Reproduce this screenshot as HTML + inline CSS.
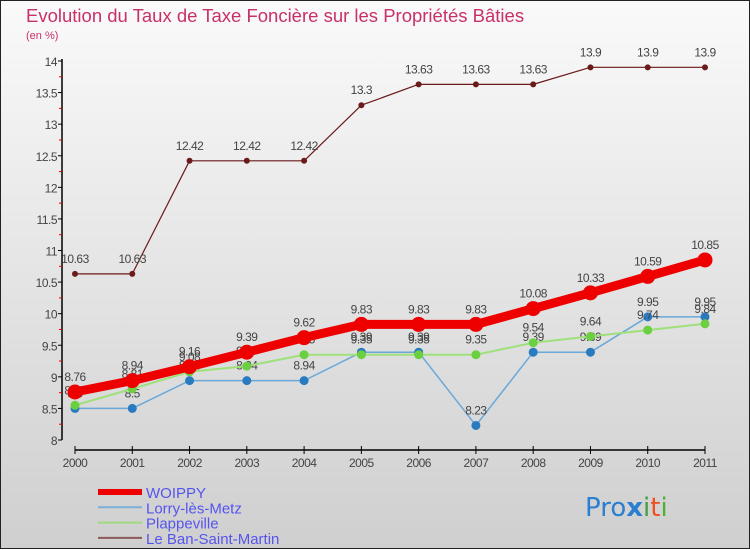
<!DOCTYPE html>
<html><head><meta charset="utf-8"><style>
body{margin:0;}
svg{display:block;font-family:"Liberation Sans",sans-serif;}
</style></head><body>
<svg id="c" width="750" height="550" viewBox="0 0 750 550">
<defs><linearGradient id="bg" x1="0" y1="0" x2="0" y2="1"><stop offset="0" stop-color="#fafafa"/><stop offset="1" stop-color="#cfcfcf"/></linearGradient></defs>
<rect x="0.5" y="0.5" width="749" height="548" fill="url(#bg)" stroke="#222"/>
<text x="26" y="22" font-size="18.5" fill="#c8306a">Evolution du Taux de Taxe Foncière sur les Propriétés Bâties</text>
<text x="26" y="39" font-size="11" fill="#c8306a">(en %)</text>
<g id="axes"></g>
<g id="series"></g>
<g id="legend"></g>
<text x="585" y="516" font-size="26" font-family="'DejaVu Sans',sans-serif"><tspan fill="#2a7fd0">Pro</tspan><tspan fill="#2a7fd0" font-weight="bold">x</tspan><tspan fill="#40a040">i</tspan><tspan fill="#f05020">t</tspan><tspan fill="#50b030">i</tspan></text>
</svg>
<script>
const years=[2000,2001,2002,2003,2004,2005,2006,2007,2008,2009,2010,2011];
const woippy=[8.76,8.94,9.16,9.39,9.62,9.83,9.83,9.83,10.08,10.33,10.59,10.85];
const lorry=[8.5,8.5,8.94,8.94,8.94,9.39,9.39,8.23,9.39,9.39,9.95,9.95];
const plappeville=[8.55,8.81,9.08,9.17,9.35,9.35,9.35,9.35,9.54,9.64,9.74,9.84];
const banSaintMartin=[10.63,10.63,12.42,12.42,12.42,13.3,13.63,13.63,13.63,13.9,13.9,13.9];
const yTicks=[8,8.5,9,9.5,10,10.5,11,11.5,12,12.5,13,13.5,14];
const yTickLabels=["8","8.5","9","9.5","10","10.5","11","11.5","12","12.5","13","13.5","14"];
const seriesNames=["WOIPPY","Lorry-lès-Metz","Plappeville","Le Ban-Saint-Martin"];

const NS="http://www.w3.org/2000/svg";
const x=i=>75+(705-75)*i/(years.length-1);
const y=v=>440-(v-8)*(440-61)/6;
function mk(tag,attrs,parent,txt){const e=document.createElementNS(NS,tag);for(const k in attrs)e.setAttribute(k,attrs[k]);if(txt!==undefined)e.textContent=txt;parent.appendChild(e);return e;}
const ax=document.getElementById('axes');
let e=mk('line',{x1:62,y1:59,x2:62,y2:440,stroke:'#000','stroke-width':1.5},ax);


yTicks.forEach((t,i)=>{
 mk('line',{x1:58,y1:y(t),x2:62,y2:y(t),stroke:'#000'},ax);
 if(i<yTicks.length-1) mk('line',{x1:59,y1:y(t+0.25),x2:62,y2:y(t+0.25),stroke:'#e00'},ax);
 const l=mk('text',{x:57,y:y(t)+5,'font-size':12,fill:'#444','text-anchor':'end','letter-spacing':'-0.5'},ax,yTickLabels[i]);
 
 
});
e=mk('line',{x1:75,y1:450,x2:705,y2:450,stroke:'#000','stroke-width':1.5},ax);


years.forEach((yr,i)=>{
 mk('line',{x1:x(i),y1:446,x2:x(i),y2:454,stroke:'#000'},ax);
 const l=mk('text',{x:x(i),y:467,'font-size':12,fill:'#444','text-anchor':'middle','letter-spacing':'-0.5'},ax,yr);
 
 
});
const sg=document.getElementById('series');
const defs=[
 {d:banSaintMartin,c:'#6b1a1a',w:1.2,r:3,n:'ban-saint-martin'},
 {d:lorry,c:'#6aa8d8',w:1.5,r:4.5,mc:'#2a7ac0',n:'lorry-les-metz'},
 {d:plappeville,c:'#9ee07a',w:2,r:4.5,mc:'#6ad040',n:'plappeville'},
 {d:woippy,c:'#ee0000',w:9,r:7.5,n:'woippy'}
];
defs.forEach(s=>{
 const g=mk('g',{},sg);
 
 
 const p=mk('polyline',{points:s.d.map((v,i)=>x(i)+','+y(v)).join(' '),fill:'none',stroke:s.c,'stroke-width':s.w,'stroke-linejoin':'round'},g);
 
 
 s.d.forEach((v,i)=>{
  const c=mk('circle',{cx:x(i),cy:y(v),r:s.r,fill:s.mc||s.c},g);
  
  
  const t=mk('text',{x:x(i),y:y(v)-11,'font-size':12,fill:'#444','text-anchor':'middle','letter-spacing':'-0.5'},g,v);
  
  
 });
});
const lg=document.getElementById('legend');
const lcol=['#ee0000','#7ab0d8','#a0d880','#8a5a5a'];
const lw=[6,2,2,2];
seriesNames.forEach((n,i)=>{
 const yy=492+i*15.3;
 const l=mk('line',{x1:98,y1:yy,x2:142,y2:yy,stroke:lcol[i],'stroke-width':lw[i]},lg);
 
 
 const t=mk('text',{x:146,y:yy+6,'font-size':15,fill:'#5555ee'},lg,n);
 
 
});
</script>
</body></html>
